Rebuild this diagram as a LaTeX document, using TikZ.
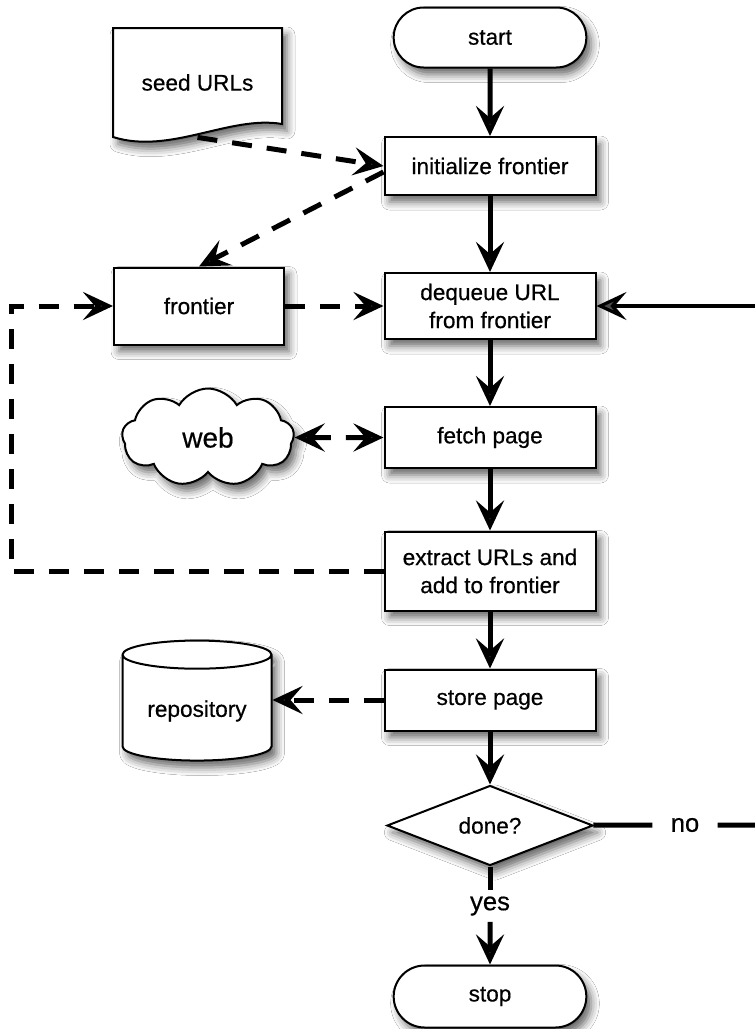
\documentclass[tikz,border=0pt]{standalone}
\usepackage{fontspec}
\setmainfont{Liberation Sans}[FakeBold=0.5]
\usetikzlibrary{arrows.meta,shapes.geometric,shapes.misc,shapes.symbols,shadows.blur}

\tikzset{
  dropshade/.style={blur shadow={shadow xshift=2.5pt,shadow yshift=-3.5pt,shadow blur radius=4pt,shadow opacity=60}},
  stepbox/.style={draw,line width=1pt,fill=white,dropshade,minimum width=105.5pt,minimum height=30.5pt,align=center,inner sep=2pt},
  term/.style={rounded rectangle,draw,line width=1pt,fill=white,dropshade,minimum width=103pt,minimum height=30pt},
  lbl/.style={font=\fontsize{12.8}{15}\selectfont,inner sep=3pt},
  flow/.style={line width=2.5pt,->},
  dataflow/.style={flow,dash pattern=on 10pt off 7.5pt},
  >={Stealth[length=15pt,width=14pt,inset=6pt]}
}

\begin{document}
\begin{tikzpicture}[x=0.5pt,y=-0.5pt,every node/.style={font=\fontsize{11.3}{14}\selectfont}]
\useasboundingbox[fill=white] (0,0) rectangle (755,1029);
% main flow
\node[term] (start) at (490,37.5) {start};
\node[stepbox,minimum height=29pt] (init) at (490,166) {initialize frontier};
\node[stepbox,minimum height=33pt] (dequeue) at (490,306) {dequeue URL\\from frontier};
\node[stepbox] (fetch) at (490,437.5) {fetch page};
\node[stepbox,minimum height=39.5pt] (extract) at (490,571) {extract URLs and\\add to frontier};
\node[stepbox] (store) at (490,700) {store page};
\node[diamond,draw,line width=1pt,fill=white,dropshade,aspect=2.55,minimum width=103pt,minimum height=40pt,inner sep=0pt] (done) at (490,825.5) {done?};
\node[lbl] (yes) at (490,906) {yes};
\node[lbl,inner xsep=9pt] (no) at (685,825) {no};
\node[term,minimum height=31pt] (stop) at (490,996.5) {stop};
\coordinate (noend) at (755,825);
\coordinate (backin) at (755,306);
\coordinate (loopx) at (11,0);
% data stores
\draw[line width=1pt,fill=white,dropshade] (113,28) -- (282,28) -- (282,124) .. controls (230,115) and (170,155) .. (113,137) -- cycle;
\node[minimum width=84.5pt,minimum height=54.5pt] (seed) at (197.5,82.5) {seed URLs};
\node[stepbox,minimum width=85pt,minimum height=38.5pt] (frontier) at (199,306) {frontier};
\node[cloud,draw,line width=1pt,fill=white,dropshade,cloud puffs=9,cloud puff arc=120,aspect=1.8,minimum width=86pt,minimum height=49pt,inner sep=0pt,font=\fontsize{14}{16}\selectfont] (web) at (208,437.5) {web};
\node[cylinder,shape border rotate=90,aspect=0.25,draw,line width=1pt,fill=white,dropshade,minimum width=74.5pt,minimum height=60pt] (repo) at (197,711) {repository};
% connectors
\foreach \a/\b in {start/init,init/dequeue,dequeue/fetch,fetch/extract,extract/store,store/done,yes/stop}
  \draw[flow] (\a) -- (\b);
\draw[line width=2.5pt] (done) -- (yes);
\draw[line width=2.5pt] (done) -- (no) -- (noend);
\draw[flow,line width=1.6pt] (backin) -- (dequeue);
\draw[dataflow] (seed.south) -- (init.west);
\draw[dataflow] ([yshift=-3pt]init.west) -- (frontier.north);
\draw[dataflow] (frontier) -- (dequeue);
\draw[dataflow,<->] (web) -- (fetch);
\draw[dataflow] (extract.west) -- (extract.west -| loopx) |- (frontier.west);
\draw[dataflow] (store) -- (store -| repo.east);
\end{tikzpicture}
\end{document}
